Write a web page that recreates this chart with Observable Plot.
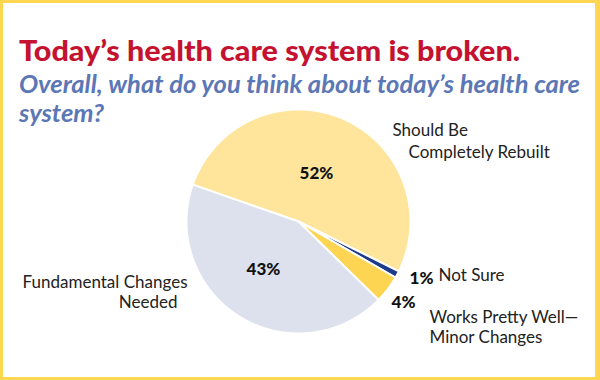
<!DOCTYPE html>
<html><head><meta charset="utf-8">
<script src="https://cdn.jsdelivr.net/npm/d3@7"></script>
<script src="https://cdn.jsdelivr.net/npm/@observablehq/plot@0.6"></script>
<style>
html,body{margin:0;padding:0;background:#fff;}
#wrap{position:relative;width:600px;height:380px;overflow:hidden;background:#fff;}
#chart{position:absolute;left:0;top:0;}
#frame{position:absolute;left:0;top:0;width:600px;height:380px;box-sizing:border-box;border-style:solid;border-color:#fed650;border-width:3px 5px 3px 3px;pointer-events:none;}
.title{position:absolute;left:19px;top:32px;font-family:Lato,sans-serif;font-weight:900;font-size:29px;line-height:35px;color:#c41230;white-space:nowrap;transform-origin:0 0;}
.sub{position:absolute;left:19px;top:69px;font-family:Lato,sans-serif;font-weight:700;font-style:italic;font-size:24px;line-height:29px;color:#5b77b5;white-space:nowrap;transform-origin:0 0;}
.sub span,.title span{display:inline-block;}
</style></head>
<body><div id="wrap"><div id="chart"></div><div class="title" id="title"></div><div class="sub" id="sub"></div><div id="frame"></div></div>
<script>
// ---- data ----
const titleText = "Today’s health care system is broken.";
const subtitleLines = ["Overall, what do you think about today’s health care", "system?"];
const categories = ["Should Be Completely Rebuilt", "Not Sure", "Works Pretty Well—Minor Changes", "Fundamental Changes Needed"];
const values = [52, 1, 4, 43];
const percentLabels = ["52%", "1%", "4%", "43%"];
const categoryLines = [["Should Be", "Completely Rebuilt"], ["Not Sure"], ["Works Pretty Well—", "Minor Changes"], ["Fundamental Changes", "Needed"]];
const sliceColors = ["#fee59b", "#1d3b8b", "#fed453", "#dde1ee"];

// ---- layout (pixels) ----
const W = 600, H = 380;
const cx = 298, cy = 221, r = 112;
const startAngle = -70.8 * Math.PI / 180;
const pctPos = [[316, 173], [421, 278], [403, 302], [263, 269]];
const catPos = [
  [[392, 135, "start"], [408, 157, "start"]],
  [[438, 280, "start"]],
  [[429, 322, "start"], [429, 342, "start"]],
  [[187, 287, "end"], [177, 307, "end"]]
];
const labelSize = 17, pctSize = 17;

// ---- titles ----
const t = document.getElementById("title");
t.innerHTML = "<span>" + titleText + "</span>";
const s = document.getElementById("sub");
s.innerHTML = subtitleLines.map(l => "<div><span>" + l + "</span></div>").join("");

// ---- pie geometry from values ----
const arcs = d3.pie().sort(null).startAngle(startAngle).endAngle(startAngle + 2 * Math.PI)(values);
const pts = [];
arcs.forEach((a, i) => {
  const n = Math.max(2, Math.ceil((a.endAngle - a.startAngle) / (Math.PI / 360)));
  pts.push({k: categories[i], x: cx, y: cy});
  for (let j = 0; j <= n; j++) {
    const th = a.startAngle + (a.endAngle - a.startAngle) * j / n;
    pts.push({k: categories[i], x: cx + r * Math.sin(th), y: cy - r * Math.cos(th)});
  }
});

const pctData = percentLabels.map((p, i) => ({text: p, x: pctPos[i][0], y: pctPos[i][1]}));
const catData = [];
categoryLines.forEach((lines, i) => lines.forEach((l, j) => catData.push({text: l, x: catPos[i][j][0], y: catPos[i][j][1] - 0.32 * labelSize, anchor: catPos[i][j][2]})));

const plot = Plot.plot({
  width: W, height: H,
  margin: 0,
  x: {domain: [0, W], range: [0, W], axis: null},
  y: {domain: [0, H], range: [0, H], axis: null},
  color: {domain: categories, range: sliceColors},
  style: {fontFamily: "Lato, sans-serif", background: "transparent"},
  marks: [
    Plot.line(pts, {x: "x", y: "y", z: "k", fill: "k", stroke: "#fff", strokeWidth: 2, strokeLinejoin: "round", curve: "linear-closed"}),
    Plot.text(pctData, {x: "x", y: "y", text: "text", fontSize: pctSize, fontWeight: 900, fill: "#111"}),
    Plot.text(catData.filter(d => d.anchor === "start"), {x: "x", y: "y", text: "text", fontSize: labelSize, fill: "#222", textAnchor: "start"}),
    Plot.text(catData.filter(d => d.anchor === "end"), {x: "x", y: "y", text: "text", fontSize: labelSize, fill: "#222", textAnchor: "end"})
  ]
});
document.getElementById("chart").appendChild(plot);

// fit title widths to the reference
function fit(el, span, target) {
  const w = span.getBoundingClientRect().width;
  el.style.transform = "scaleX(" + (target / w) + ")";
}
fit(t, t.querySelector("span"), 501);
fit(s, s.querySelector("span"), 561);
</script>
</body></html>
